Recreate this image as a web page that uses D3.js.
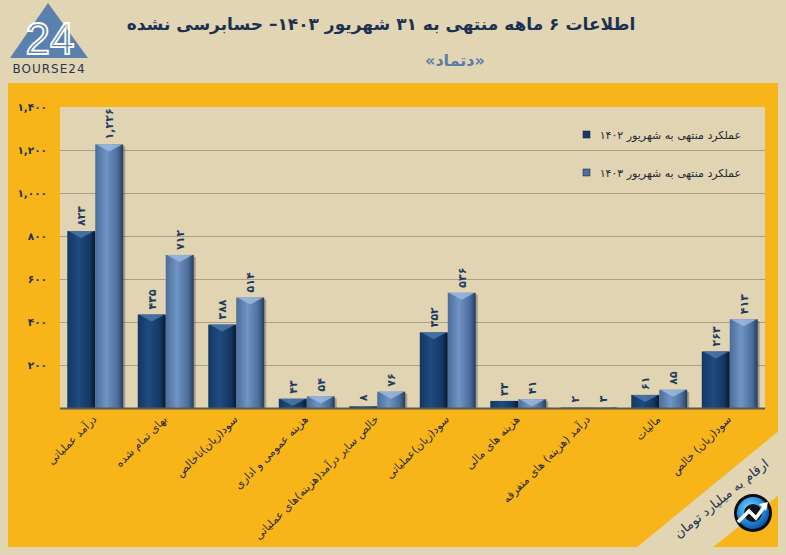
<!DOCTYPE html>
<html lang="fa">
  <head>
    <meta charset="utf-8">
    <title>دتماد - اطلاعات ۶ ماهه</title>
    <style type="text/css">
      body { margin: 0; background: #e2d5b4; }
      svg { display: block; }
      text { font-family: "DejaVu Sans", sans-serif; }
    </style>
  </head>
  <body>
    <div id="chart"></div>

    <script type="text/javascript" src="https://cdn.jsdelivr.net/npm/d3@7/dist/d3.min.js"></script>

    <script type="text/javascript">
    // ===================================
    // DATA
    // ===================================
      var categories = [
        "درآمد عملیاتی",
        "بهای تمام شده",
        "سود(زیان)ناخالص",
        "هزینه عمومی و اداری",
        "خالص سایر درآمد(هزینه)های عملیاتی",
        "سود(زیان)عملیاتی",
        "هزینه های مالی",
        "درآمد (هزینه) های متفرقه",
        "مالیات",
        "سود(زیان) خالص"
      ];
      var values1402 = [823, 435, 388, 43, 8, 352, 33, 2, 61, 263];
      var values1403 = [1226, 712, 514, 54, 76, 536, 41, 3, 85, 413];
      var seriesNames = ["عملکرد منتهی به شهریور ۱۴۰۲", "عملکرد منتهی به شهریور ۱۴۰۳"];
      var yTicks = [200, 400, 600, 800, 1000, 1200, 1400];

    // ===================================
    // SETUP
    // ===================================
      var w = 786;
      var h = 555;
      var plot = { left: 60, right: 765, top: 107, bottom: 408 };
      var orange = "#f7b519";
      var beige = "#e2d5b4";
      var navy = "#1c3152";

      // Persian digits
      var fa = "۰۱۲۳۴۵۶۷۸۹";
      function toFa(n) {
        return d3.format(",")(n).replace(/[0-9]/g, function(c) { return fa[+c]; });
      }

      var svg = d3.select("#chart")
        .append("svg")
        .attr("width", w)
        .attr("height", h);

      var defs = svg.append("defs");

      function barGradient(id, edge, mid, dark) {
        var g = defs.append("linearGradient").attr("id", id)
          .attr("x1", "0%").attr("x2", "100%").attr("y1", "0%").attr("y2", "0%");
        g.append("stop").attr("offset", "0%").attr("stop-color", edge);
        g.append("stop").attr("offset", "40%").attr("stop-color", mid);
        g.append("stop").attr("offset", "80%").attr("stop-color", edge);
        g.append("stop").attr("offset", "100%").attr("stop-color", dark);
      }
      barGradient("g1402", "#133763", "#1f4b80", "#08182e");
      barGradient("g1403", "#4b6d9b", "#7094c3", "#253c5c");

      var logoGrad = defs.append("radialGradient").attr("id", "logoGrad")
        .attr("cx", "40%").attr("cy", "35%").attr("r", "70%");
      logoGrad.append("stop").attr("offset", "0%").attr("stop-color", "#7fd0ff");
      logoGrad.append("stop").attr("offset", "60%").attr("stop-color", "#1f8be0");
      logoGrad.append("stop").attr("offset", "100%").attr("stop-color", "#0b4e9a");

    // ===================================
    // BACKGROUND PANELS
    // ===================================
      svg.append("rect").attr("width", w).attr("height", h).attr("fill", beige);
      svg.append("rect")
        .attr("x", 8).attr("y", 83)
        .attr("width", 770).attr("height", 464)
        .attr("fill", orange);
      svg.append("rect")
        .attr("x", plot.left).attr("y", plot.top)
        .attr("width", plot.right - plot.left).attr("height", plot.bottom - plot.top)
        .attr("fill", "#e1d4b3");

      // diagonal band bottom right
      svg.append("polygon")
        .attr("points", "636,548 780,430 780,494 712,548")
        .attr("fill", beige);

    // ===================================
    // HEADER
    // ===================================
      var logo = svg.append("g");
      logo.append("polygon")
        .attr("points", "48,3 88,58 10,58")
        .attr("fill", "#5a80ad");
      logo.append("text")
        .attr("x", 50).attr("y", 54)
        .attr("text-anchor", "middle")
        .attr("font-size", 44)
        .attr("fill", "none")
        .attr("stroke", "#ffffff")
        .attr("stroke-width", 1.8)
        .style("font-family", "Liberation Sans, sans-serif")
        .text("24");
      logo.append("text")
        .attr("x", 49).attr("y", 73)
        .attr("text-anchor", "middle")
        .attr("font-size", 12)
        .attr("letter-spacing", 1)
        .attr("fill", "#2a3550")
        .style("font-family", "DejaVu Sans, sans-serif")
        .text("BOURSE24");

      svg.append("text")
        .attr("x", 381).attr("y", 30)
        .attr("text-anchor", "middle")
        .attr("font-size", 17)
        .attr("font-weight", "bold")
        .attr("fill", navy)
        .text("اطلاعات ۶  ماهه منتهی به ۳۱ شهریور  ۱۴۰۳– حسابرسی نشده");

      svg.append("text")
        .attr("x", 455).attr("y", 66)
        .attr("text-anchor", "middle")
        .attr("font-size", 16)
        .attr("font-weight", "bold")
        .attr("fill", "#5a7da8")
        .text("«دتماد»");

    // ===================================
    // SCALES
    // ===================================
      var x0 = d3.scaleBand()
        .domain(d3.range(categories.length))
        .range([plot.left, plot.right])
        .paddingInner(0)
        .paddingOuter(0);
      var x1 = d3.scaleBand()
        .domain([0, 1])
        .range([0, x0.bandwidth()])
        .paddingOuter(0.26)
        .paddingInner(0);
      var y = d3.scaleLinear()
        .domain([0, 1400])
        .range([plot.bottom, plot.top]);

      // gridlines
      svg.append("g")
        .selectAll("line")
        .data(yTicks.slice(0, -1))
        .enter()
        .append("line")
        .attr("x1", plot.left).attr("x2", plot.right)
        .attr("y1", function(d) { return y(d) + 0.5; })
        .attr("y2", function(d) { return y(d) + 0.5; })
        .attr("stroke", "#aaa08a")
        .attr("stroke-width", 1);

      // y axis labels
      var yAxis = d3.axisLeft(y)
        .tickValues(yTicks)
        .tickSize(0)
        .tickPadding(0)
        .tickFormat(toFa);
      var yg = svg.append("g")
        .attr("transform", "translate(47,0)")
        .call(yAxis);
      yg.select(".domain").remove();
      yg.selectAll("text")
        .attr("font-size", 10.5)
        .attr("font-weight", "bold")
        .attr("fill", navy)
        .style("font-family", "DejaVu Sans, sans-serif");

    // ===================================
    // BARS
    // ===================================
      var series = [values1402, values1403];
      var grads = ["url(#g1402)", "url(#g1403)"];
      var bevels = ["#4d77a8", "#9bb8dc"];

      series.forEach(function(vals, s) {
        var rows = vals.map(function(v, i) { return { v: v, i: i }; });
        var bars = svg.append("g")
          .selectAll("g")
          .data(rows)
          .enter()
          .append("g");

        function bx(d) { return x0(d.i) + x1(s); }

        // shadow
        bars.append("rect")
          .attr("x", function(d) { return bx(d) + 2; })
          .attr("y", function(d) { return y(d.v) + 2; })
          .attr("width", x1.bandwidth())
          .attr("height", function(d) { return Math.max(0, y(0) - y(d.v) - 2); })
          .attr("fill", "#000")
          .attr("opacity", 0.25);

        bars.append("rect")
          .attr("x", bx)
          .attr("y", function(d) { return y(d.v); })
          .attr("width", x1.bandwidth())
          .attr("height", function(d) { return y(0) - y(d.v); })
          .attr("fill", grads[s]);

        // top bevel
        bars.filter(function(d) { return y(0) - y(d.v) > 8; })
          .append("polygon")
          .attr("points", function(d) {
            var xl = bx(d), xr = xl + x1.bandwidth(), t = y(d.v);
            return (xl + 1) + "," + t + " " + (xr - 1) + "," + t + " " + ((xl + xr) / 2) + "," + (t + 7);
          })
          .attr("fill", bevels[s])
          .attr("opacity", 0.85);

        // value labels
        bars.append("text")
          .attr("transform", function(d) {
            var cx = bx(d) + x1.bandwidth() / 2 + 4;
            return "translate(" + cx + "," + (y(d.v) - 5) + ") rotate(-90)";
          })
          .attr("font-size", 11)
          .attr("font-weight", "bold")
          .attr("fill", "#1d3a60")
          .text(function(d) { return toFa(d.v); });
      });

      // x axis line
      svg.append("line")
        .attr("x1", plot.left).attr("x2", plot.right)
        .attr("y1", plot.bottom + 0.5).attr("y2", plot.bottom + 0.5)
        .attr("stroke", "#5a5a55")
        .attr("stroke-width", 2);

      // category labels
      svg.append("g")
        .selectAll("text")
        .data(categories)
        .enter()
        .append("text")
        .attr("transform", function(d, i) {
          return "translate(" + (x0(i) + x0.bandwidth() / 2 + 2) + "," + (plot.bottom + 12) + ") rotate(-45)";
        })
        .attr("text-anchor", "end")
        .attr("font-size", 11)
        .attr("fill", "#25262a")
        .text(function(d) { return d; });

    // ===================================
    // LEGEND
    // ===================================
      var legend = svg.append("g");
      legend.selectAll("rect")
        .data(seriesNames)
        .enter()
        .append("rect")
        .attr("x", 583)
        .attr("y", function(d, i) { return 131 + i * 38; })
        .attr("width", 7).attr("height", 7)
        .attr("fill", function(d, i) { return i ? "#4e6f9c" : "#173a66"; })
        .attr("stroke", "#0d1f38")
        .attr("stroke-width", 0.5);
      legend.selectAll("text")
        .data(seriesNames)
        .enter()
        .append("text")
        .attr("x", 741)
        .attr("y", function(d, i) { return 139 + i * 38; })
        .attr("text-anchor", "end")
        .attr("font-size", 11)
        .attr("fill", "#1f2836")
        .text(function(d) { return d; });

    // ===================================
    // UNIT NOTE + BADGE
    // ===================================
      svg.append("text")
        .attr("transform", "translate(724,502) rotate(-39)")
        .attr("text-anchor", "middle")
        .attr("font-size", 13)
        .attr("fill", navy)
        .text("ارقام به میلیارد تومان");

      var badge = svg.append("g").attr("transform", "translate(753,513)");
      badge.append("circle").attr("r", 19).attr("fill", "#0c0c10");
      badge.append("circle").attr("r", 16).attr("fill", "url(#logoGrad)");
      badge.append("circle").attr("r", 9).attr("fill", "#10141c");
      badge.append("path")
        .attr("d", "M-15,9 L-4,-2 L3,5 L11,-6")
        .attr("fill", "none")
        .attr("stroke", "#ffffff")
        .attr("stroke-width", 3.5)
        .attr("stroke-linejoin", "miter");
      badge.append("polygon")
        .attr("points", "15,-11 6,-9 13,-2")
        .attr("fill", "#ffffff");
    </script>
  </body>
</html>
